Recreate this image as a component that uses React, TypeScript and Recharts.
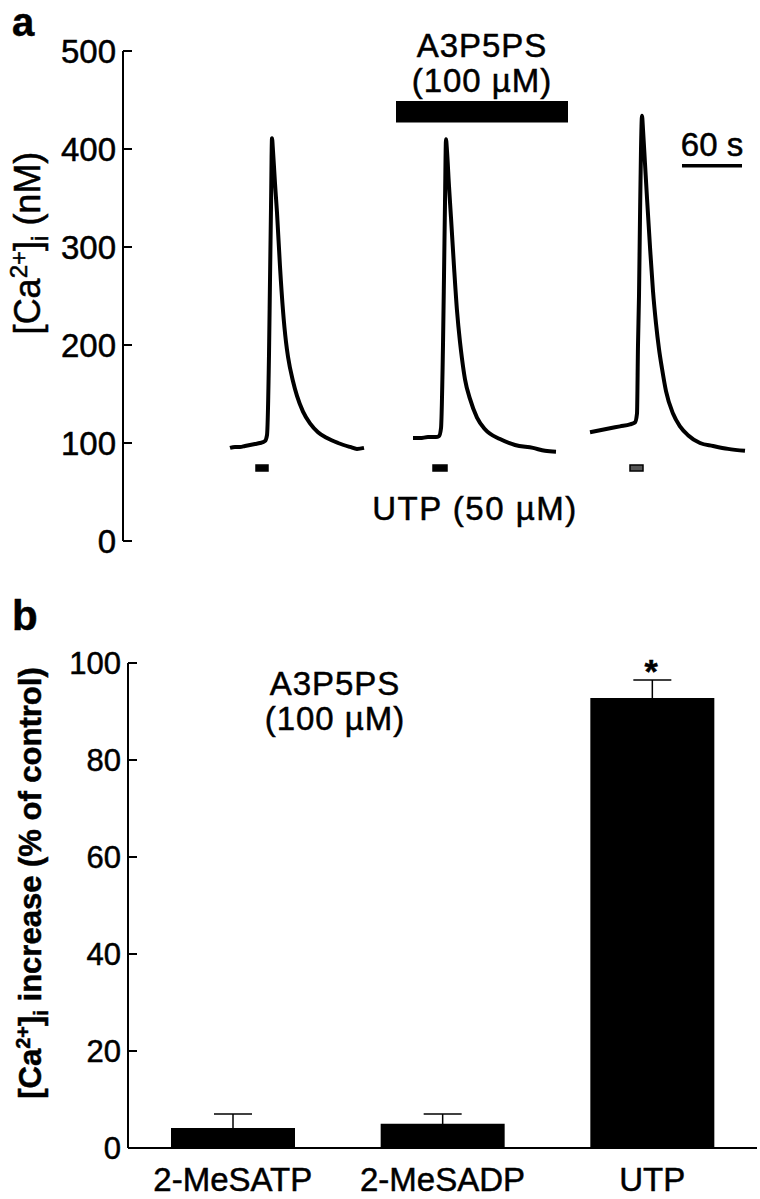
import React from 'react';
import {
  LineChart,
  Line,
  XAxis,
  YAxis,
  ReferenceArea,
  ReferenceLine,
  BarChart,
  Bar,
  ErrorBar,
} from 'recharts';

const FONT = '"Liberation Sans", Arial, Helvetica, sans-serif';

// ---------- Panel a: [Ca2+]i traces (time in s, concentration in nM) ----------
const trace1Time = [107, 112, 117, 122, 127, 132, 137, 142, 144, 146, 147, 148, 149, 150, 152, 154, 157, 160, 163, 165, 170, 174, 180, 187, 195, 204, 215, 227, 234, 241];
const trace1Conc = [95, 96, 96, 97, 98, 99, 100, 102, 108, 190, 266, 340, 411, 398, 365, 335, 280, 235, 203, 188, 163, 148, 132, 120, 111, 105, 100, 96, 94, 95];

const trace2Time = [290, 297, 305, 313, 316, 318, 320, 321, 322, 323, 324, 326, 328, 331, 334, 337, 339, 342, 347, 354, 362, 377, 392, 410, 422, 433];
const trace2Conc = [105, 105, 106, 106, 107, 115, 200, 270, 345, 410, 398, 362, 330, 280, 235, 203, 186, 165, 145, 126, 114, 104, 98, 95, 92, 91];

const trace3Time = [467, 477, 487, 497, 507, 512, 514, 515, 516, 517, 518, 519, 520, 522, 524, 527, 530, 533, 536, 539, 543, 550, 557, 565, 577, 590, 605, 622];
const trace3Conc = [111, 113, 115, 117, 119, 121, 130, 200, 250, 330, 400, 434, 420, 385, 350, 300, 255, 222, 196, 176, 153, 130, 117, 108, 100, 97, 94, 92];

const concTicks = [0, 100, 200, 300, 400, 500];
const timeDomain = [0, 634];

// A3P5PS application bar (time window, drawn level band in nM)
const drugWindow = [273, 445];
const drugBand = [427, 449];
// UTP application markers
const utpStart = [133, 310, 507];
const utpEnd = [145, 324, 520];
const utpBand = [71.5, 77.5];
// 60 s scale bar
const scaleBarTime = [559, 619];
const scaleBarLevel = 383;

// ---------- Panel b: bars ----------
const categories = ['2-MeSATP', '2-MeSADP', 'UTP'];
const meanIncrease = [4.1, 5.0, 92.8];
const semIncrease = [2.9, 2.0, 3.7];
const pctTicks = [0, 20, 40, 60, 80, 100];

const traceRows = [
  ...trace1Time.map((t, i) => ({ t, s1: trace1Conc[i] })),
  ...trace2Time.map((t, i) => ({ t, s2: trace2Conc[i] })),
  ...trace3Time.map((t, i) => ({ t, s3: trace3Conc[i] })),
];

const barRows = categories.map((name, i) => ({ name, mean: meanIncrease[i], sem: semIncrease[i] }));

const TXT = { fill: '#000', stroke: '#000', strokeWidth: 0.5, fontFamily: FONT };

const makeYTick = (fontSize: number) => (props: any) => {
  const { x, y, payload } = props;
  return (
    <g>
      <line x1={x} x2={x + 9} y1={y} y2={y} stroke="#000" strokeWidth={2} />
      <text x={x - 7} y={y} dy="0.36em" textAnchor="end" fontSize={fontSize} {...TXT}>
        {payload.value}
      </text>
    </g>
  );
};

const XCatTick = (props: any) => {
  const { x, y, payload } = props;
  return (
    <text x={x} y={y + 43} textAnchor="middle" fontSize={33} {...TXT}>
      {payload.value}
    </text>
  );
};

const axisStyle = { stroke: '#000', strokeWidth: 2 };

export default function App() {
  return (
    <div style={{ position: 'absolute', left: 0, top: 0, width: 760, height: 1199, background: '#fff', fontFamily: FONT }}>
      <div style={{ position: 'absolute', left: 0, top: 0 }}>
        <LineChart width={760} height={560} data={traceRows} margin={{ top: 51, right: 3, bottom: 19, left: 0 }}>
          <XAxis
            dataKey="t"
            type="number"
            domain={timeDomain}
            allowDataOverflow
            height={0}
            tick={false}
            tickLine={false}
            axisLine={axisStyle}
          />
          <YAxis
            type="number"
            domain={[0, 500]}
            ticks={concTicks}
            width={123}
            tickSize={0}
            tickMargin={0}
            tickLine={false}
            axisLine={axisStyle}
            tick={makeYTick(33)}
            interval={0}
          />
          <ReferenceArea x1={drugWindow[0]} x2={drugWindow[1]} y1={drugBand[0]} y2={drugBand[1]} fill="#000" fillOpacity={1} stroke="none" ifOverflow="visible" />
          {utpStart.map((s, i) => (
            <ReferenceArea
              key={i}
              x1={s}
              x2={utpEnd[i]}
              y1={utpBand[0]}
              y2={utpBand[1]}
              fill={i === 2 ? '#555' : '#000'}
              fillOpacity={1}
              stroke="#000"
              strokeWidth={1.5}
              ifOverflow="visible"
            />
          ))}
          <ReferenceLine
            segment={[{ x: scaleBarTime[0], y: scaleBarLevel }, { x: scaleBarTime[1], y: scaleBarLevel }]}
            stroke="#000"
            strokeWidth={3.5}
            ifOverflow="visible"
          />
          <Line type="monotone" dataKey="s1" stroke="#000" strokeWidth={4} dot={false} isAnimationActive={false} />
          <Line type="monotone" dataKey="s2" stroke="#000" strokeWidth={4} dot={false} isAnimationActive={false} />
          <Line type="monotone" dataKey="s3" stroke="#000" strokeWidth={4} dot={false} isAnimationActive={false} />
        </LineChart>
      </div>

      <div style={{ position: 'absolute', left: 0, top: 600 }}>
        <BarChart width={760} height={599} data={barRows} margin={{ top: 63, right: 3, bottom: 0, left: 0 }}>
          <XAxis
            dataKey="name"
            height={51}
            tickSize={0}
            tickMargin={0}
            tickLine={false}
            axisLine={axisStyle}
            tick={XCatTick}
            interval={0}
          />
          <YAxis
            type="number"
            domain={[0, 100]}
            ticks={pctTicks}
            width={128}
            tickSize={0}
            tickMargin={0}
            tickLine={false}
            axisLine={axisStyle}
            tick={makeYTick(31)}
            interval={0}
          />
          <Bar dataKey="mean" fill="#000" barSize={124} isAnimationActive={false}>
            <ErrorBar dataKey="sem" width={19} stroke="#000" strokeWidth={1.5} direction="y" />
          </Bar>
        </BarChart>
      </div>

      <svg width={760} height={1199} style={{ position: 'absolute', left: 0, top: 0, pointerEvents: 'none' }}>
        <text x={12} y={36} fontSize={40} fontWeight="bold" {...TXT}>a</text>
        <text x={482} y={57} fontSize={33} textAnchor="middle" letterSpacing={1} {...TXT}>A3P5PS</text>
        <text x={482} y={92} fontSize={33} textAnchor="middle" letterSpacing={1} {...TXT}>(100 µM)</text>
        <text x={712} y={156} fontSize={33} textAnchor="middle" {...TXT}>60 s</text>
        <text x={475} y={520} fontSize={33} textAnchor="middle" letterSpacing={1.5} {...TXT}>UTP (50 µM)</text>
        <text transform="translate(40,243) rotate(-90)" fontSize={36} textAnchor="middle" {...TXT}>
          [Ca<tspan dy={-13} fontSize={24}>2+</tspan><tspan dy={13}>]</tspan><tspan dy={8} fontSize={24}>i</tspan><tspan dy={-8}> (nM)</tspan>
        </text>

        <text x={12} y={630} fontSize={42} fontWeight="bold" {...TXT}>b</text>
        <text x={335} y={695} fontSize={33} textAnchor="middle" letterSpacing={1} {...TXT}>A3P5PS</text>
        <text x={335} y={730} fontSize={33} textAnchor="middle" letterSpacing={1} {...TXT}>(100 µM)</text>
        <text x={651} y={683} fontSize={34} fontWeight="bold" textAnchor="middle" {...TXT}>*</text>
        <text transform="translate(41,883) rotate(-90)" fontSize={31} fontWeight="bold" textAnchor="middle" {...TXT}>
          [Ca<tspan dy={-11} fontSize={20}>2+</tspan><tspan dy={11}>]</tspan><tspan dy={7} fontSize={20}>i</tspan><tspan dy={-7}> increase (% of control)</tspan>
        </text>
      </svg>
    </div>
  );
}
